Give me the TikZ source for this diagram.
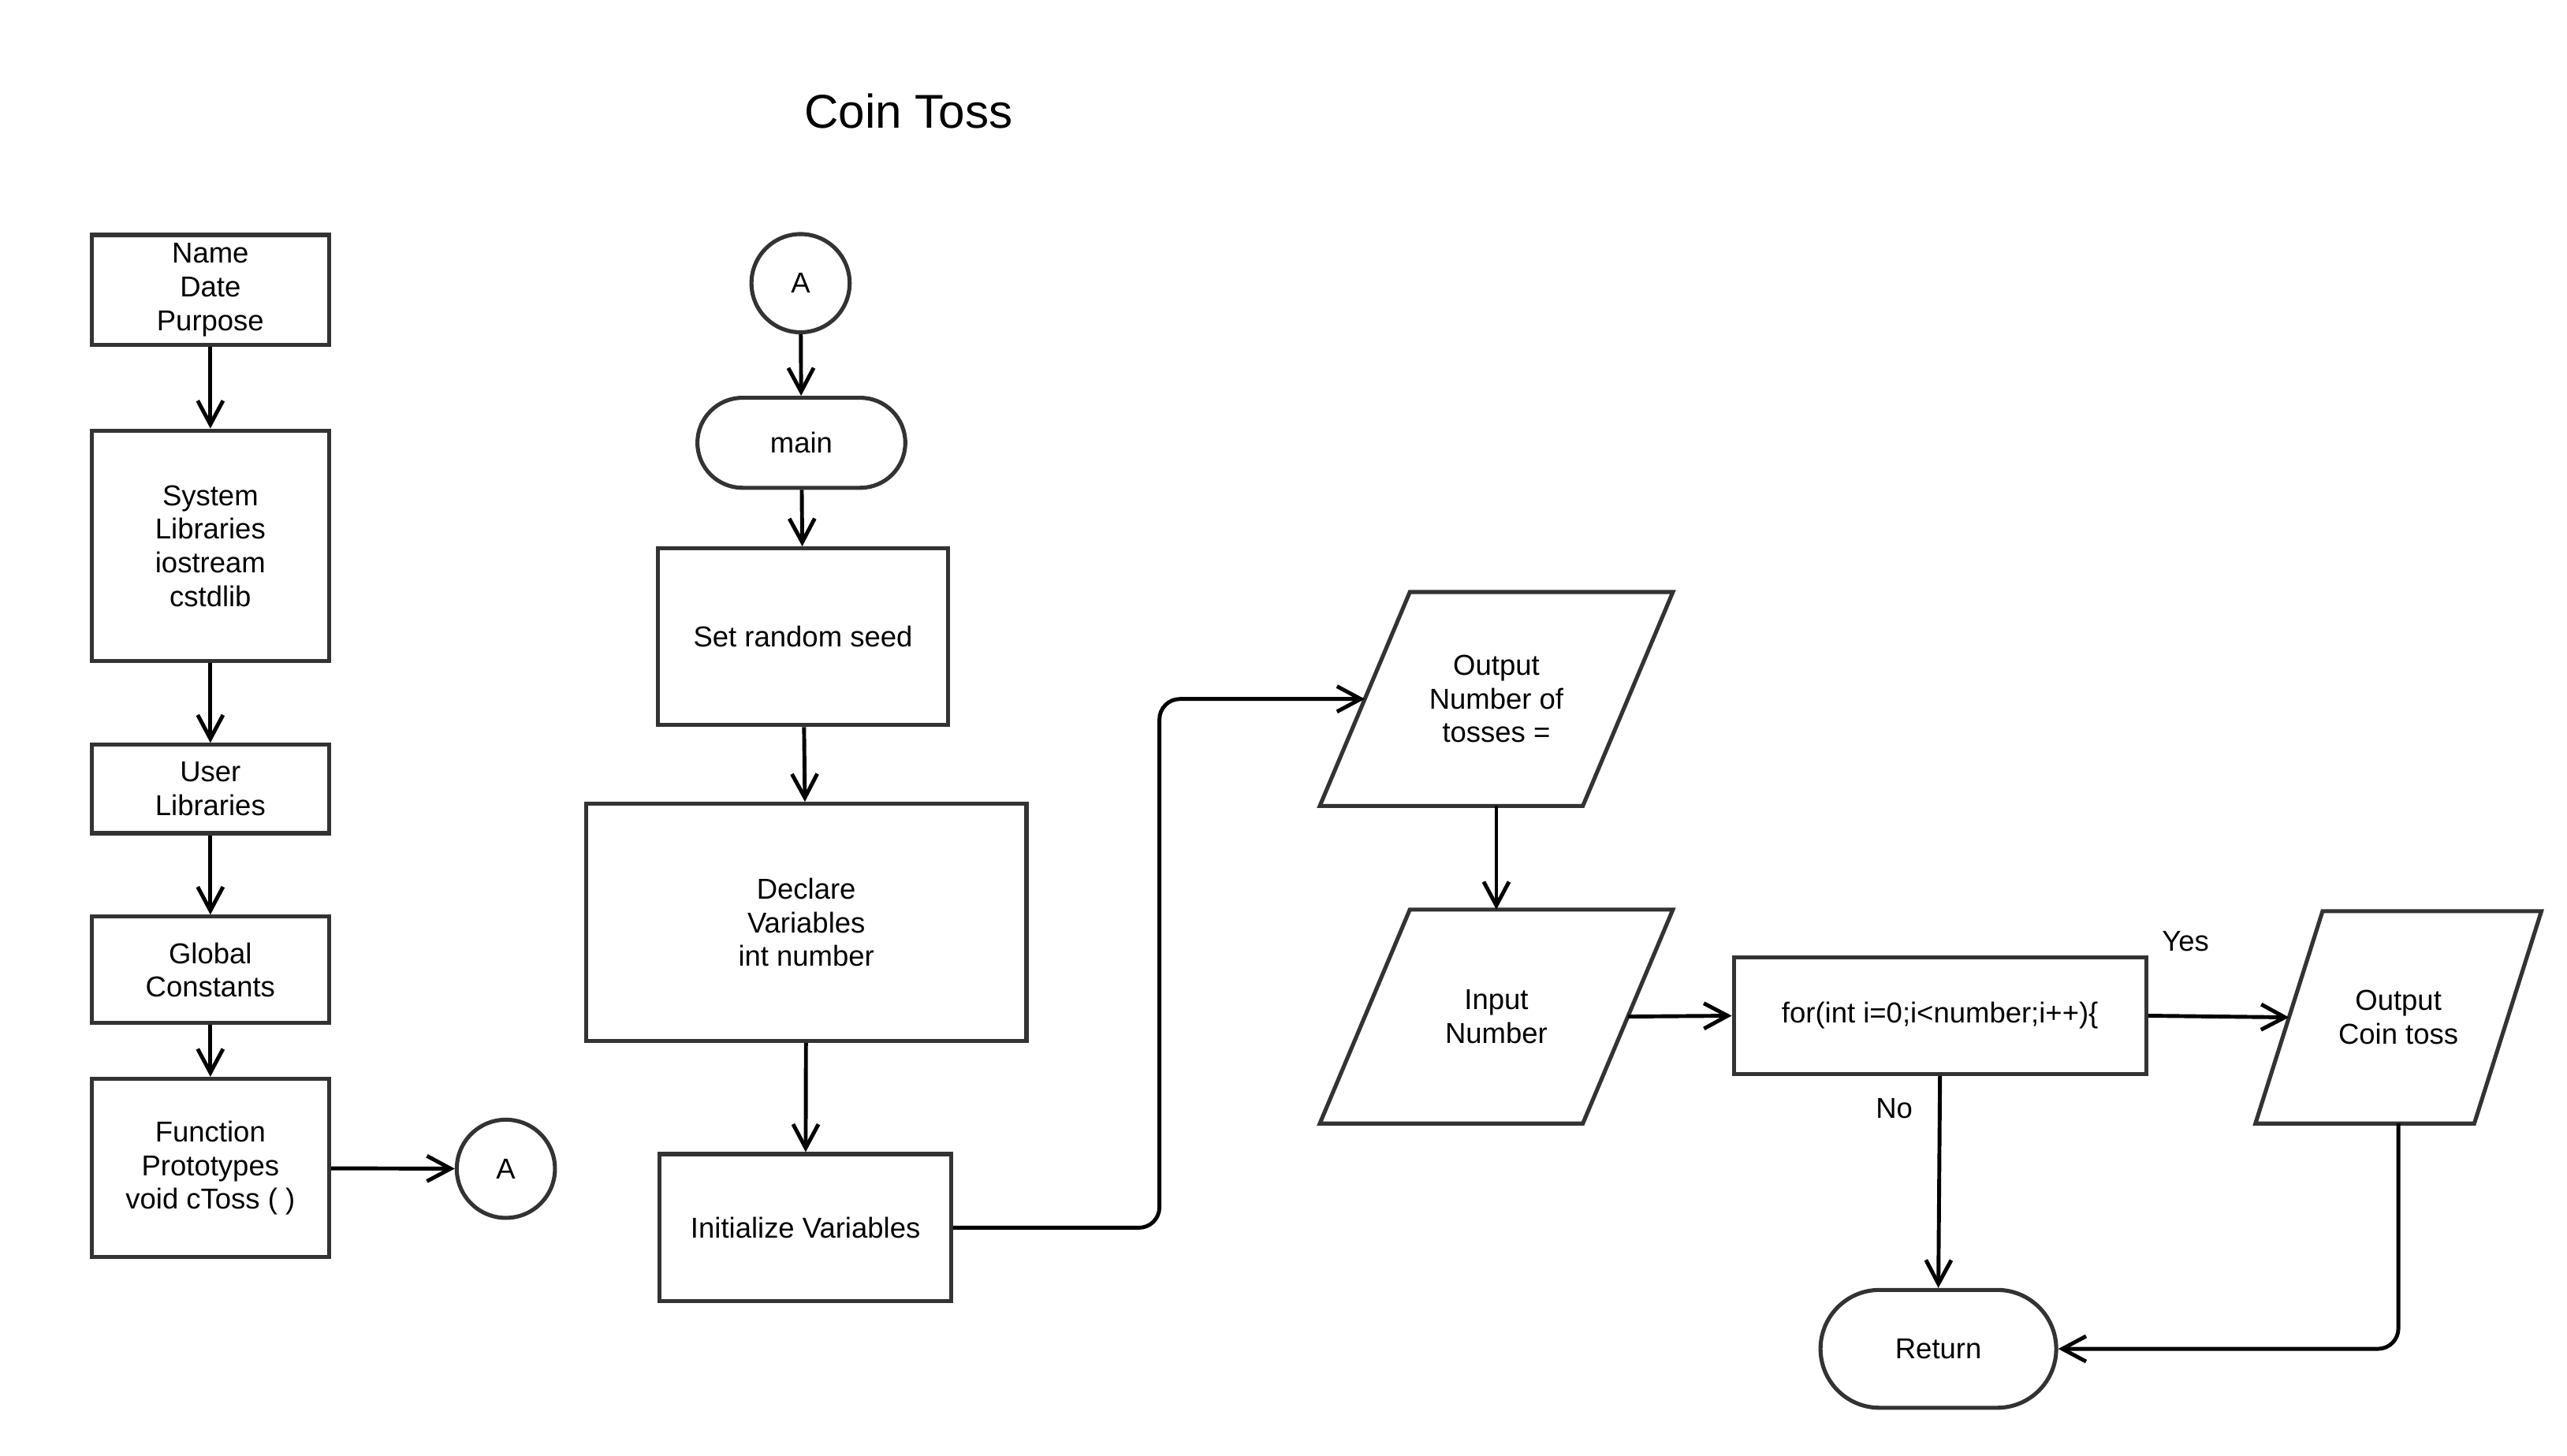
\documentclass[tikz,border=0pt]{standalone}
\usepackage{fontspec}
\setmainfont{Liberation Sans}
\usetikzlibrary{arrows.meta,shapes.misc}
\definecolor{bord}{HTML}{333333}
\begin{document}
\begin{tikzpicture}[x=0.02cm,y=-0.02cm,
  txt/.style={align=center, font=\fontsize{10}{11.7}\selectfont, inner sep=0pt},
  box/.style={txt, draw=bord, line width=1.4pt, fill=white},
  proc/.style={box, rectangle},
  term/.style={box, rounded rectangle},
  conn/.style={box, circle, minimum size=1.2cm},
  io/.style={txt, rectangle},
  ioline/.style={draw=bord, line width=1.4pt, line join=miter},
  arr/.style={line width=1.35pt, -{Straight Barb[length=2.9mm,width=3.1mm]}},
  lbl/.style={font=\fontsize{10}{11.7}\selectfont}
]
\useasboundingbox (0,0) rectangle (1568,889);
\node[font=\fontsize{16.5}{20}\selectfont] (title) at (555,68) {Coin Toss};
% left column
\node[proc, minimum width=2.9cm, minimum height=1.34cm] (name) at (128.5,177) {Name\\Date\\Purpose};
\node[proc, minimum width=2.9cm, minimum height=2.82cm] (sys) at (128.5,333.5) {System\\Libraries\\iostream\\cstdlib};
\node[proc, minimum width=2.9cm, minimum height=1.08cm] (user) at (128.5,482) {User\\Libraries};
\node[proc, minimum width=2.9cm, minimum height=1.3cm] (glob) at (128.5,592.5) {Global\\Constants};
\node[proc, minimum width=2.9cm, minimum height=2.18cm] (func) at (128.5,713.5) {Function\\Prototypes\\void cToss ( )};
\node[conn] (a1) at (309,714) {A};
% middle column
\node[conn] (a2) at (489,173) {A};
\node[term, minimum width=2.54cm, minimum height=1.1cm] (main) at (489.5,270.5) {main};
\node[proc, minimum width=3.54cm, minimum height=2.16cm] (seed) at (490.5,389) {Set random seed};
\node[proc, minimum width=5.38cm, minimum height=2.9cm] (decl) at (492.5,563.5) {Declare\\Variables\\int number};
\node[proc, minimum width=3.56cm, minimum height=1.8cm] (init) at (492,750) {Initialize Variables};
% right part
\node[io, minimum width=3.2cm, minimum height=2.6cm] (out1) at (914,427) {Output\\Number of\\tosses =};
\draw[ioline] ([xshift=0.55cm]out1.north west) -- ([xshift=0.55cm]out1.north east) -- ([xshift=-0.55cm]out1.south east) -- ([xshift=-0.55cm]out1.south west) -- cycle;
\node[io, minimum width=3.2cm, minimum height=2.6cm] (inp) at (914,621) {Input\\Number};
\draw[ioline] ([xshift=0.55cm]inp.north west) -- ([xshift=0.55cm]inp.north east) -- ([xshift=-0.55cm]inp.south east) -- ([xshift=-0.55cm]inp.south west) -- cycle;
\node[proc, minimum width=5.04cm, minimum height=1.42cm] (for) at (1185,620.5) {for(int i=0;i<number;i++)\{};
\node[io, minimum width=2.66cm, minimum height=2.58cm] (out2) at (1465,621.5) {Output\\Coin toss};
\draw[ioline] ([xshift=0.41cm]out2.north west) -- ([xshift=0.41cm]out2.north east) -- ([xshift=-0.41cm]out2.south east) -- ([xshift=-0.41cm]out2.south west) -- cycle;
\node[term, minimum width=2.88cm, minimum height=1.44cm] (ret) at (1184,824) {Return};
\node[lbl] (yes) at (1335,575) {Yes};
\node[lbl] (no) at (1157,677) {No};
% connectors
\draw[arr] (name) -- (sys);
\draw[arr] (sys) -- (user);
\draw[arr] (user) -- (glob);
\draw[arr] (glob) -- (func);
\draw[arr] (func) -- (a1);
\draw[arr] (a2) -- (main);
\draw[arr] (main) -- (seed);
\draw[arr] (seed) -- (decl);
\draw[arr] (decl) -- (init);
\draw[arr, rounded corners=0.25cm] (init.east) -- ++(126,0) |- (out1.west);
\draw[arr] (out1) -- (inp);
\draw[arr] (inp.east) -- (for.west);
\draw[arr] (for.east) -- (out2.west);
\draw[arr] (for.south) -- (ret.north);
\draw[arr, rounded corners=0.25cm] (out2.south) |- (ret.east);
\end{tikzpicture}
\end{document}
